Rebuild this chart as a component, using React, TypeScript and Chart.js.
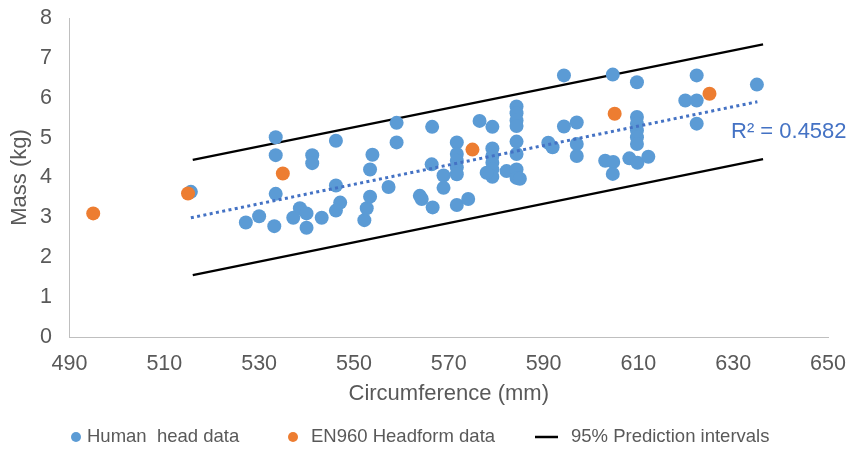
import { useEffect, useRef } from "react";
import { Chart, registerables } from "chart.js";

Chart.register(...registerables);

// Human head measurements: circumference (mm) and mass (kg)
const humanCircumference = [
  515.6, 533.5, 546.2, 533.5, 541.2, 541.2, 533.5, 546.2, 547.1, 546.2,
  527.2, 530.0, 533.2, 538.6, 537.2, 540.0, 540.0, 543.2, 552.2, 552.7,
  553.4, 553.4, 553.9, 559.0, 559.0, 557.3, 563.9, 564.3, 566.5, 566.4,
  566.6, 568.9, 568.9, 571.7, 571.7, 571.7, 571.7, 571.7, 571.7, 574.1,
  576.5, 579.2, 579.2, 579.2, 579.2, 579.2, 579.2, 578.0, 582.2, 584.3,
  584.3, 584.3, 584.3, 584.3, 584.3, 584.3, 584.3, 585.0, 591.0, 591.9,
  594.3, 594.3, 597.0, 597.0, 597.0, 603.0, 604.7, 604.6, 604.6, 609.7,
  609.7, 609.7, 609.7, 609.7, 609.7, 608.1, 609.8, 612.1, 619.9, 622.3,
  622.3, 622.3, 635.0,
];
const humanMass = [
  3.64, 5.01, 4.92, 4.56, 4.56, 4.36, 3.59, 3.80, 3.37, 3.17,
  2.87, 3.03, 2.78, 3.23, 2.99, 3.10, 2.74, 2.99, 2.93, 3.23,
  3.52, 4.20, 4.57, 5.37, 4.88, 3.76, 3.54, 3.46, 5.27, 4.33,
  3.25, 4.05, 3.74, 4.88, 4.59, 4.42, 4.25, 4.08, 3.31, 3.46,
  5.42, 5.27, 4.73, 4.54, 4.37, 4.20, 4.02, 4.12, 4.16, 5.78,
  5.61, 5.43, 5.29, 4.90, 4.59, 4.20, 3.99, 3.97, 4.87, 4.76,
  6.56, 5.28, 5.38, 4.84, 4.54, 4.42, 4.39, 4.09, 6.58, 6.39,
  5.52, 5.35, 5.18, 5.01, 4.84, 4.48, 4.37, 4.52, 5.93, 5.93,
  6.56, 5.35, 6.33,
];

// EN960 headform sizes
const headformCircumference = [495, 515, 535, 575, 605, 625];
const headformMass = [3.1, 3.6, 4.1, 4.7, 5.6, 6.1];

// Linear trend of the human data, end points
const trendCircumference = [515.6, 635.1];
const trendMass = [2.99, 5.9];

// 95% prediction interval bounds, end points
const intervalCircumference = [516, 636.3];
const upperIntervalMass = [4.44, 7.34];
const lowerIntervalMass = [1.55, 4.46];

const xTicks = [490, 510, 530, 550, 570, 590, 610, 630, 650];
const yTicks = [0, 1, 2, 3, 4, 5, 6, 7, 8];

const seriesLabels = ["Human  head data", "EN960 Headform data", "95% Prediction intervals"];
const xTitle = "Circumference (mm)";
const yTitle = "Mass (kg)";
const rSquaredLabel = "R² = 0.4582";

const BLUE = "#5B9BD5";
const ORANGE = "#ED7D31";
const TREND = "#4472C4";
const TEXT = "#595959";
const AXIS = "#BFBFBF";
const FONT = "'Liberation Sans', Arial, sans-serif";

const toPoints = (xs: number[], ys: number[]) => xs.map((x, i) => ({ x, y: ys[i] }));

// Keep the plot box fixed: drop the label overhang padding the scales request
const clearScalePadding = (scale: any) => {
  scale.paddingTop = 0;
  scale.paddingBottom = 0;
  scale.paddingLeft = 0;
  scale.paddingRight = 0;
};

// Legend row and trendline label
const notesPlugin = {
  id: "chartNotes",
  afterDraw(chart: any) {
    const ctx: CanvasRenderingContext2D = chart.ctx;
    ctx.save();

    ctx.font = `22px ${FONT}`;
    ctx.fillStyle = TREND;
    ctx.textAlign = "left";
    ctx.textBaseline = "middle";
    ctx.fillText(rSquaredLabel, 731, 132);

    const legendY = 437;
    const entries = [
      { kind: "dot", color: BLUE, x: 76, textX: 87, text: seriesLabels[0] },
      { kind: "dot", color: ORANGE, x: 293, textX: 311, text: seriesLabels[1] },
      { kind: "line", color: "#000000", x: 535, textX: 571, text: seriesLabels[2] },
    ];
    ctx.font = `18.5px ${FONT}`;
    for (const e of entries) {
      if (e.kind === "dot") {
        ctx.beginPath();
        ctx.fillStyle = e.color;
        ctx.arc(e.x, legendY, 5, 0, Math.PI * 2);
        ctx.fill();
      } else {
        ctx.beginPath();
        ctx.strokeStyle = e.color;
        ctx.lineWidth = 2.5;
        ctx.moveTo(e.x, legendY);
        ctx.lineTo(e.x + 23, legendY);
        ctx.stroke();
      }
      ctx.fillStyle = TEXT;
      ctx.fillText(e.text, e.textX, legendY);
    }
    ctx.restore();
  },
};

export default function App() {
  const canvasRef = useRef<HTMLCanvasElement | null>(null);

  useEffect(() => {
    if (!canvasRef.current) return;
    Chart.defaults.font.family = FONT;

    const chart = new Chart(canvasRef.current, {
      type: "scatter",
      data: {
        datasets: [
          {
            label: "Linear trend",
            data: toPoints(trendCircumference, trendMass),
            showLine: true,
            borderColor: TREND,
            borderWidth: 3,
            borderDash: [3, 3.4],
            pointRadius: 0,
            order: 0,
          },
          {
            label: seriesLabels[1],
            data: toPoints(headformCircumference, headformMass),
            backgroundColor: ORANGE,
            borderWidth: 0,
            pointRadius: 7,
            order: 1,
          },
          {
            label: seriesLabels[0],
            data: toPoints(humanCircumference, humanMass),
            backgroundColor: BLUE,
            borderWidth: 0,
            pointRadius: 7,
            order: 2,
          },
          {
            label: seriesLabels[2],
            data: toPoints(intervalCircumference, upperIntervalMass),
            showLine: true,
            borderColor: "#000000",
            borderWidth: 2.3,
            pointRadius: 0,
            order: 3,
          },
          {
            label: "Lower interval",
            data: toPoints(intervalCircumference, lowerIntervalMass),
            showLine: true,
            borderColor: "#000000",
            borderWidth: 2.3,
            pointRadius: 0,
            order: 3,
          },
        ],
      },
      options: {
        responsive: false,
        animation: false,
        layout: { padding: { top: 18, right: 21, bottom: 0, left: 0 } },
        plugins: {
          legend: { display: false },
          tooltip: { enabled: false },
        },
        scales: {
          x: {
            type: "linear",
            min: xTicks[0],
            max: xTicks[xTicks.length - 1],
            afterBuildTicks: (scale: any) => {
              scale.ticks = xTicks.map((value) => ({ value }));
            },
            afterFit: (scale: any) => {
              scale.height = 116;
              clearScalePadding(scale);
            },
            grid: { display: false, drawTicks: false },
            border: { display: true, color: AXIS, width: 1 },
            ticks: {
              color: TEXT,
              font: { size: 21.5, lineHeight: 1.2 },
              padding: 14,
              maxRotation: 0,
            },
            title: {
              display: true,
              text: xTitle,
              color: TEXT,
              font: { size: 22, lineHeight: 1.2 },
              padding: { top: 0, bottom: 45.8 },
            },
          },
          y: {
            type: "linear",
            min: yTicks[0],
            max: yTicks[yTicks.length - 1],
            afterBuildTicks: (scale: any) => {
              scale.ticks = yTicks.map((value) => ({ value }));
            },
            afterFit: (scale: any) => {
              scale.width = 69.5;
              clearScalePadding(scale);
            },
            grid: { display: false, drawTicks: false },
            border: { display: true, color: AXIS, width: 1 },
            ticks: {
              color: TEXT,
              font: { size: 21.5, lineHeight: 1.2 },
              padding: 17.5,
            },
            title: {
              display: true,
              text: yTitle,
              color: TEXT,
              font: { size: 22, lineHeight: 1.2 },
              padding: { top: 7, bottom: 0 },
            },
          },
        },
      },
      plugins: [notesPlugin],
    });

    return () => chart.destroy();
  }, []);

  return (
    <div style={{ position: "fixed", left: 0, top: 0, width: 849, height: 453, background: "#ffffff" }}>
      <canvas ref={canvasRef} width={849} height={453} />
    </div>
  );
}
